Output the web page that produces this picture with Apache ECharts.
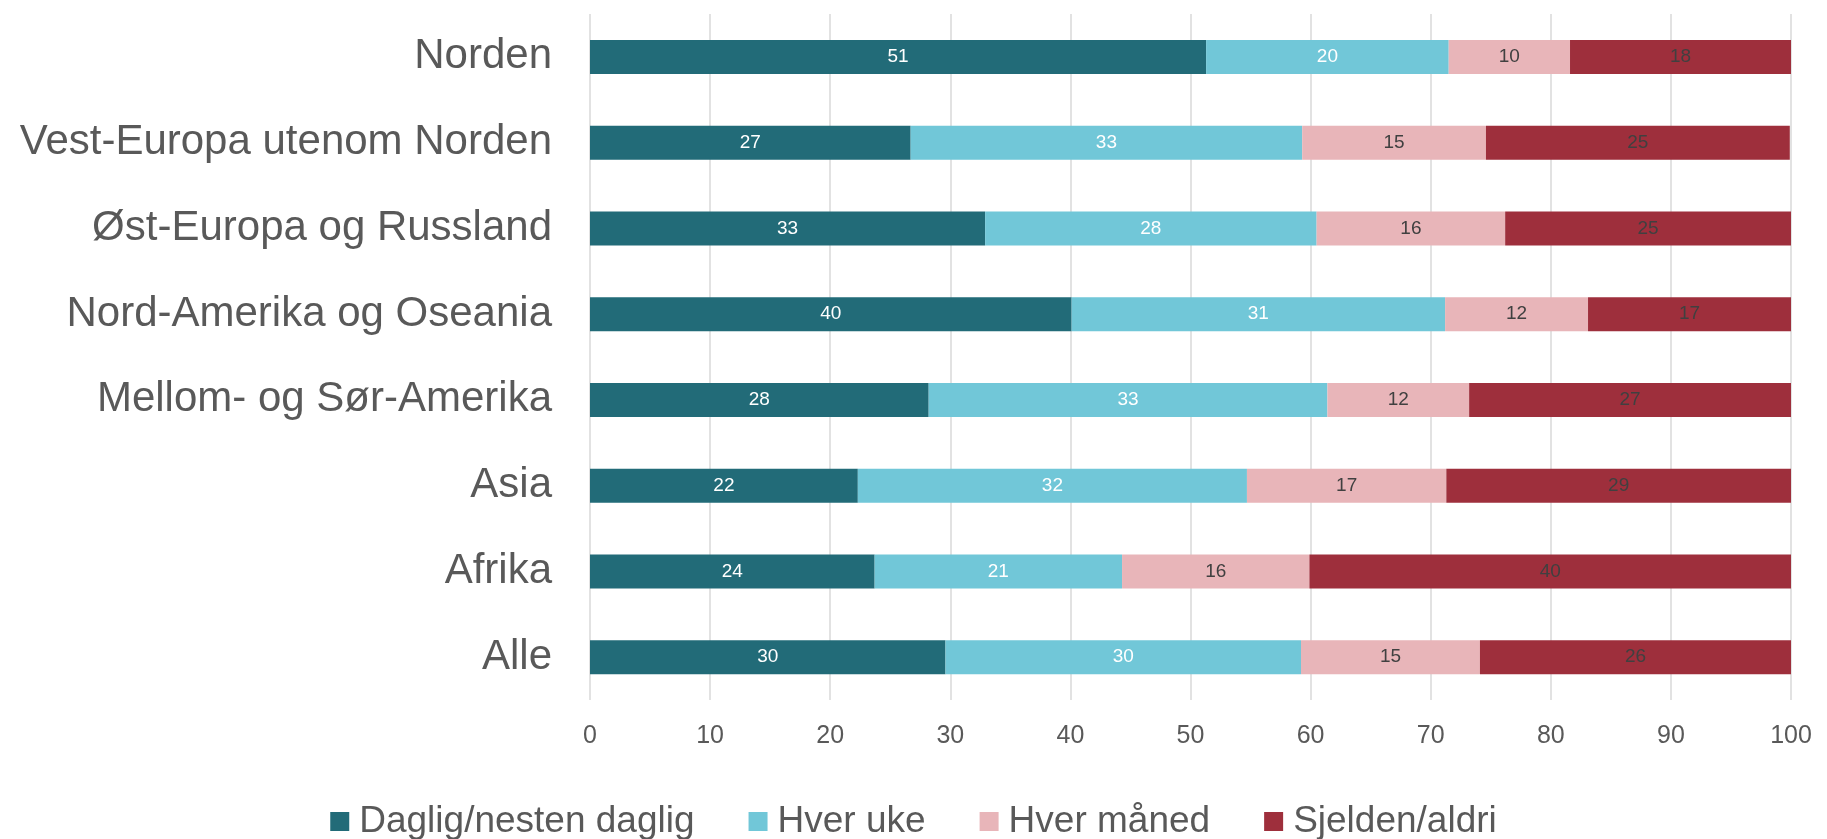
<!DOCTYPE html>
<html>
<head>
<meta charset="utf-8">
<script src="https://cdn.jsdelivr.net/npm/echarts@6/dist/echarts.min.js"></script>
<style>
html,body{margin:0;padding:0;background:#fff;}
#chart{width:1827px;height:839px;}
</style>
</head>
<body>
<div id="chart"></div>
<script>
const categories = ["Norden","Vest-Europa utenom Norden","Øst-Europa og Russland","Nord-Amerika og Oseania","Mellom- og Sør-Amerika","Asia","Afrika","Alle"];
const seriesNames = ["Daglig/nesten daglig","Hver uke","Hver måned","Sjelden/aldri"];
const daglig = [51.3, 26.7, 32.9, 40.1, 28.2, 22.3, 23.7, 29.6];
const hverUke = [20.2, 32.6, 27.6, 31.1, 33.2, 32.4, 20.6, 29.6];
const hverMaaned = [10.1, 15.3, 15.7, 11.9, 11.8, 16.6, 15.6, 14.9];
const sjelden = [18.4, 25.3, 24.5, 16.9, 26.8, 28.8, 40.3, 25.9];
const xTicks = {min: 0, max: 100, interval: 10};

const colors = ["#226b78", "#71c7d8", "#e8b5b9", "#9e2f3c"];
const labelColors = ["#ffffff", "#ffffff", "#404040", "#404040"];
const allData = [daglig, hverUke, hverMaaned, sjelden];

const chart = echarts.init(document.getElementById('chart'));
chart.setOption({
  animation: false,
  textStyle: {fontFamily: 'Liberation Sans, Arial, sans-serif'},
  grid: {left: 590, right: 36, top: 14, bottom: 139, containLabel: false},
  legend: {
    data: seriesNames,
    left: 'center',
    top: 798,
    itemWidth: 19,
    itemHeight: 19,
    itemGap: 54,
    icon: 'rect',
    textStyle: {fontSize: 37, color: '#595959', padding: [0, 0, 0, 5]}
  },
  xAxis: {
    type: 'value',
    min: xTicks.min, max: xTicks.max, interval: xTicks.interval,
    axisLine: {show: false},
    axisTick: {show: false},
    axisLabel: {fontSize: 25, color: '#595959', margin: 24},
    splitLine: {show: true, lineStyle: {color: '#d9d9d9', width: 1.5}}
  },
  yAxis: {
    type: 'category',
    data: categories,
    inverse: true,
    axisLine: {show: false},
    axisTick: {show: false},
    axisLabel: {fontSize: 42, color: '#595959', margin: 38}
  },
  series: seriesNames.map((name, i) => ({
    name: name,
    type: 'bar',
    stack: 'total',
    barWidth: 34,
    data: allData[i],
    itemStyle: {color: colors[i]},
    label: {
      show: true,
      position: 'inside',
      fontSize: 19,
      color: labelColors[i],
      formatter: p => Math.round(p.value)
    }
  }))
});
</script>
</body>
</html>
